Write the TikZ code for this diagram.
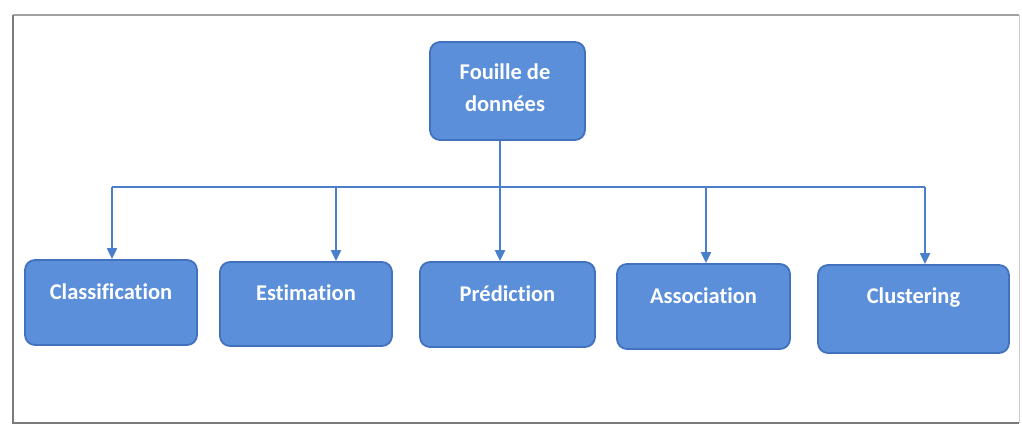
\documentclass[tikz,border=0pt]{standalone}
\usepackage{fontspec}
\setmainfont{Carlito}[Ligatures=NoCommon]
\usetikzlibrary{arrows.meta,calc}
\definecolor{boxfill}{HTML}{5B8FDA}
\definecolor{boxline}{HTML}{4272BE}
\definecolor{linkcol}{HTML}{4A7FCB}
\definecolor{framecol}{HTML}{7A7A7A}
\tikzset{
  catbox/.style={draw=boxline, line width=1.8pt, fill=boxfill, rounded corners=10pt, inner sep=0pt},
  cattext/.style={text=white, font=\bfseries\fontsize{22.5}{32}\selectfont, inner sep=0pt, align=center},
  link/.style={draw=linkcol, line width=2pt},
  arr/.style={link, -{Triangle[width=10pt,length=11pt]}},
}
\begin{document}
\begin{tikzpicture}[x=1pt,y=-1pt]
\useasboundingbox (0,0) rectangle (1022,426);
\draw[framecol!70, line width=1.2pt] (13,15) coordinate (f1) -- (1019,15) coordinate (f2);
\draw[framecol, line width=1.6pt] (13,15) -- (13,423) coordinate (f3) -- (1019,423);
\draw[framecol!40, line width=1pt] (1019,15) -- (1019,423);

\node[catbox, minimum width=155pt, minimum height=98pt] (top) at (507.5,91) {};
\node[cattext] (toptext) at (505,88) {Fouille de\\données};

\node[catbox, minimum width=172pt, minimum height=85pt] (cla) at (111,302.5) {};
\node[catbox, minimum width=172pt, minimum height=84pt] (est) at (306,304) {};
\node[catbox, minimum width=175pt, minimum height=85pt] (pre) at (507.5,304.5) {};
\node[catbox, minimum width=173pt, minimum height=85pt] (ass) at (703.5,306.5) {};
\node[catbox, minimum width=191pt, minimum height=88pt] (clu) at (913.5,309) {};

\node[cattext] (clat) at ($(cla.center)+(0,-11)$) {Classification};
\node[cattext] (estt) at ($(est.center)+(0,-11)$) {Estimation};
\node[cattext] (pret) at ($(pre.center)+(0,-11)$) {Prédiction};
\node[cattext] (asst) at ($(ass.center)+(0,-11)$) {Association};
\node[cattext] (clut) at ($(clu.center)+(0,-11)$) {Clustering};

\coordinate (bus) at (500,187);
\coordinate (b1) at (112,187);
\coordinate (b2) at (336,187);
\coordinate (b4) at (706,187);
\coordinate (b5) at (925,187);

\draw[link] (top.south -| bus) -- (bus);
\draw[link] (b1) -- (b5);
\draw[arr] (b1) -- (b1 |- cla.north);
\draw[arr] (b2) -- (b2 |- est.north);
\draw[arr] (bus) -- (bus |- pre.north);
\draw[arr] (b4) -- (b4 |- ass.north);
\draw[arr] (b5) -- (b5 |- clu.north);
\end{tikzpicture}
\end{document}
